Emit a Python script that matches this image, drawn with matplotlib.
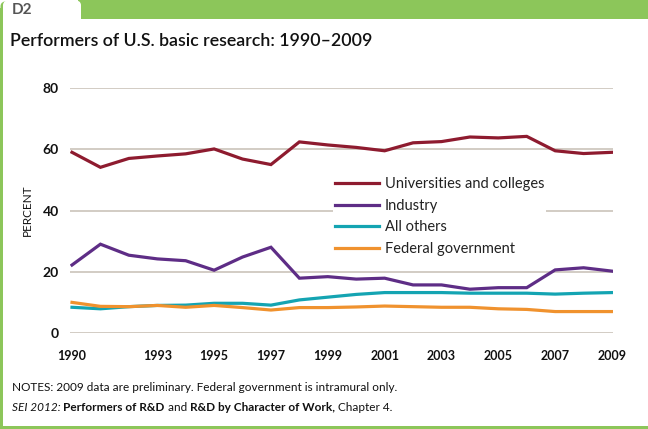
import matplotlib
matplotlib.use("Agg")
import matplotlib.pyplot as plt
from matplotlib.patches import Rectangle, FancyBboxPatch

years = list(range(1990, 2010))
universities = [59.0, 54.1, 57.0, 57.8, 58.5, 60.1, 56.8, 55.0, 62.4, 61.4,
                60.6, 59.5, 62.1, 62.5, 64.0, 63.7, 64.2, 59.5, 58.6, 59.0]
industry = [22.2, 29.0, 25.4, 24.2, 23.6, 20.5, 24.8, 28.0, 17.9, 18.4,
            17.6, 17.9, 15.7, 15.7, 14.3, 14.8, 14.8, 20.6, 21.3, 20.2]
all_others = [8.4, 7.9, 8.6, 9.0, 9.1, 9.7, 9.7, 9.1, 10.8, 11.7,
              12.6, 13.2, 13.2, 13.2, 13.0, 13.0, 13.0, 12.7, 13.0, 13.2]
federal = [10.0, 8.7, 8.6, 9.0, 8.4, 9.0, 8.3, 7.5, 8.3, 8.3,
           8.5, 8.8, 8.6, 8.4, 8.4, 7.9, 7.7, 7.0, 7.0, 7.0]
series_names = ["Universities and colleges", "Industry", "All others", "Federal government"]
xtick_years = [1990, 1993, 1995, 1997, 1999, 2001, 2003, 2005, 2007, 2009]
yticks = [0, 20, 40, 60, 80]

colors = ["#8e1b2f", "#5e2d86", "#14a4b2", "#f0922e"]
FONT = "Lato"
W, H = 648, 429
fig = plt.figure(figsize=(W / 100, H / 100), dpi=100)

def fx(px):
    return px / W

def fy(py):
    return 1 - py / H

# frame
green = "#8cc65a"
fig.patches.append(Rectangle((fx(78), fy(19)), fx(W - 78), 19 / H, transform=fig.transFigure,
                             facecolor=green, edgecolor="none", zorder=0))
fig.patches.append(Rectangle((0, 0), fx(3), fy(8), transform=fig.transFigure,
                             facecolor=green, edgecolor="none", zorder=0))
fig.patches.append(Rectangle((0, 0), 1, 3 / H, transform=fig.transFigure,
                             facecolor=green, edgecolor="none", zorder=0))
fig.patches.append(FancyBboxPatch((fx(0.5), fy(20)), fx(10), 19 / H,
                                  boxstyle="round,pad=0,rounding_size=0.012",
                                  transform=fig.transFigure, facecolor=green,
                                  edgecolor="none", zorder=0))
fig.patches.append(FancyBboxPatch((fx(3), fy(30)), fx(78), 30 / H,
                                  boxstyle="round,pad=0,rounding_size=0.012",
                                  transform=fig.transFigure, facecolor="white",
                                  edgecolor="none", zorder=0.5))

fig.text(fx(12), fy(10), "D2", fontsize=11, color="#555555", fontweight="bold",
         family=FONT, va="center", ha="left")
fig.text(fx(10), fy(46), "Performers of U.S. basic research: 1990\u20132009", fontsize=12.8,
         color="#111111", fontweight="semibold", family=FONT, va="baseline", ha="left")

# axes
x0_px, x1_px = 70, 613
y0_px, y1_px = 333, 88
ax = fig.add_axes([fx(x0_px), fy(y0_px), fx(x1_px - x0_px), (y0_px - y1_px) / H])
per_year = (612 - 72) / 19
ax.set_xlim(1990 - (72 - x0_px) / per_year, 2009 + (x1_px - 612) / per_year)
ax.set_ylim(0, 80)
ax.set_facecolor("none")
for s in ax.spines.values():
    s.set_visible(False)
for v in yticks:
    ax.axhline(v, color="#cbc3ba", lw=1.2, zorder=1)

data = [universities, industry, all_others, federal]
lines = []
for vals, c, name in zip(data, colors, series_names):
    ln, = ax.plot(years, vals, color=c, lw=2.3, solid_joinstyle="miter", label=name, zorder=3)
    lines.append(ln)

ax.set_xticks(xtick_years)
ax.set_xticklabels([str(y) for y in xtick_years])
ax.set_yticks(yticks)
ax.set_yticklabels([str(v) for v in yticks])
ax.tick_params(axis="both", length=0, labelsize=9, labelcolor="#111111")
ax.tick_params(axis="x", pad=12)
ax.tick_params(axis="y", pad=8)
for lab in ax.get_xticklabels() + ax.get_yticklabels():
    lab.set_family(FONT)
    lab.set_fontweight("bold")
for lab in ax.get_yticklabels():
    lab.set_fontsize(10)

fig.text(fx(27), fy(210), "PERCENT", rotation=90, fontsize=8.5, family=FONT,
         color="#111111", ha="center", va="center")

leg = ax.legend(handles=lines, loc="upper left", bbox_to_anchor=((333 - x0_px) / (x1_px - x0_px),
                (y0_px - 175) / (y0_px - y1_px)), frameon=True, framealpha=1, edgecolor="none",
                facecolor="white", fancybox=False, borderpad=0.15, handlelength=3.0,
                handletextpad=0.4, labelspacing=0.52, borderaxespad=0,
                prop={"family": FONT, "size": 10.5})
leg.set_zorder(2)
for t in leg.get_texts():
    t.set_color("#222222")

# notes
fs = 8.5
fig.text(fx(12), fy(391), "NOTES: 2009 data are preliminary. Federal government is intramural only.",
         fontsize=fs, family=FONT, color="#111111", va="baseline", ha="left")
parts = [("SEI 2012: ", "normal", "italic"), ("Performers of R&D", "bold", "normal"),
         (" and ", "normal", "normal"), ("R&D by Character of Work,", "bold", "normal"),
         (" Chapter 4.", "normal", "normal")]
texts = []
for txt, wt, st in parts:
    texts.append(fig.text(fx(12), fy(411), txt, fontsize=fs, family=FONT, color="#111111",
                          fontweight=wt, style=st, va="baseline", ha="left"))
fig.canvas.draw()
renderer = fig.canvas.get_renderer()
xcur = texts[0].get_window_extent(renderer).x1
for t in texts[1:]:
    t.set_position((xcur / W, fy(411)))
    fig.canvas.draw()
    xcur = t.get_window_extent(renderer).x1

fig.savefig("out.png", dpi=100, facecolor="white")
